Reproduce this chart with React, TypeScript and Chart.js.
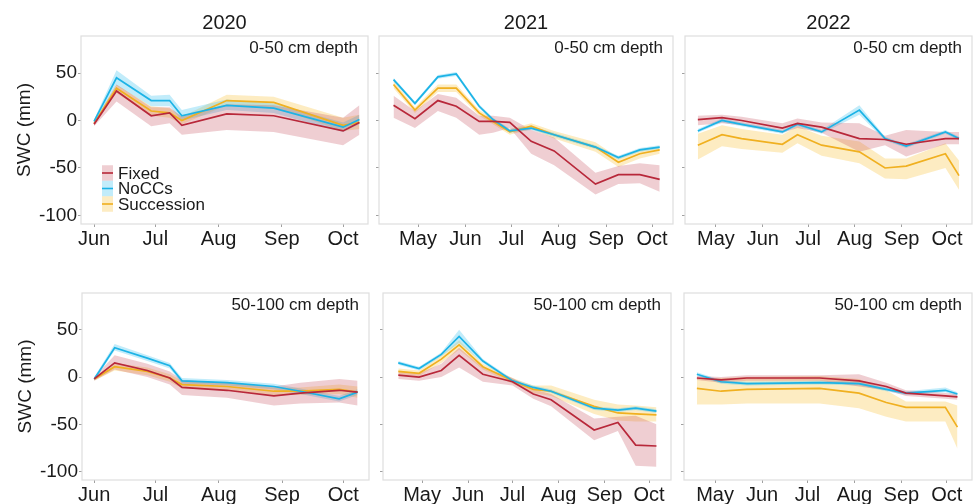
import React, { useEffect, useRef } from "react";
import { Chart, registerables } from "chart.js";

Chart.register(...registerables);

const FONT = "'Liberation Sans', Arial, Helvetica, sans-serif";
const INK = "#1a1a1a";

const seriesNames = ["Fixed", "NoCCs", "Succession"];
const lineColors = ["#b8283a", "#1cb3e6", "#f0b020"];
const bandColors = ["rgba(190,60,75,0.25)", "rgba(80,200,240,0.35)", "rgba(250,200,80,0.35)"];

// Day of year for the first of each month (May..Oct) and their labels
const monthDays = [121, 152, 182, 213, 244, 274];
const monthLabels = ["May", "Jun", "Jul", "Aug", "Sep", "Oct"];
const yTicks = [-100, -50, 0, 50];
const years = ["2020", "2021", "2022"];
const depths = ["0-50 cm depth", "50-100 cm depth"];

// ---- 2020, 0-50 cm ----
const days20a = [152, 163, 180, 189, 195, 217, 240, 274, 282];
const fixed20a = [-4, 31, 5, 8, -5, 7, 5, -11, -2];
const fixed20aLo = [-6, 20, -6, -3, -15, -10, -12, -26, -15];
const fixed20aHi = [-2, 38, 14, 14, 4, 17, 16, 3, 16];
const nocc20a = [-1, 45, 21, 21, 5, 16, 13, -7, 1];
const nocc20aLo = [-3, 37, 15, 15, 0, 11, 8, -12, -4];
const nocc20aHi = [1, 53, 26, 27, 11, 22, 18, -2, 6];
const succ20a = [-3, 34, 10, 8, 0, 21, 19, -5, -2];
const succ20aLo = [-5, 29, 5, 3, -4, 16, 14, -11, -9];
const succ20aHi = [-1, 38, 15, 13, 4, 27, 25, 3, 6];

// ---- 2021, 0-50 cm ----
const days21a = [105, 119, 134, 146, 161, 170, 181, 195, 210, 237, 252, 266, 279];
const fixed21a = [16, 2, 21, 15, -1, -1, -2, -22, -32, -67, -57, -57, -62];
const fixed21aLo = [3, -8, 10, 3, -15, -13, -8, -35, -47, -78, -67, -66, -75];
const fixed21aHi = [26, 10, 28, 24, 5, 5, 3, -10, -18, -55, -48, -45, -47];
const nocc21a = [43, 18, 46, 49, 15, 1, -11, -8, -15, -28, -39, -31, -28];
const nocc21aLo = [41, 16, 44, 47, 13, -1, -13, -10, -17, -30, -41, -33, -30];
const nocc21aHi = [45, 20, 48, 51, 17, 3, -9, -6, -13, -26, -37, -29, -26];
const succ21a = [38, 11, 34, 34, 8, -1, -12, -6, -15, -28, -44, -35, -31];
const succ21aLo = [34, 8, 30, 30, 5, -4, -15, -9, -19, -33, -49, -40, -35];
const succ21aHi = [42, 14, 38, 38, 11, 2, -9, -3, -11, -23, -39, -30, -27];

// ---- 2022, 0-50 cm ----
const days22a = [109, 125, 138, 165, 175, 191, 216, 233, 247, 273, 282];
const fixed22a = [1, 3, 0, -8, -3, -7, -19, -20, -25, -19, -19];
const fixed22aLo = [-5, -3, -5, -13, -8, -13, -33, -26, -38, -25, -25];
const fixed22aHi = [5, 6, 4, -3, 2, -2, -3, -16, -10, -12, -12];
const nocc22a = [-11, 0, -4, -12, -4, -12, 11, -19, -27, -12, -19];
const nocc22aLo = [-13, -2, -6, -14, -6, -14, 6, -21, -29, -14, -21];
const nocc22aHi = [-9, 2, -2, -10, -2, -10, 16, -17, -25, -10, -17];
const succ22a = [-26, -15, -19, -25, -15, -26, -33, -50, -48, -35, -58];
const succ22aLo = [-41, -27, -30, -34, -24, -37, -45, -61, -62, -50, -73];
const succ22aHi = [-14, -5, -9, -15, -6, -16, -22, -40, -40, -24, -42];

// ---- 2020, 50-100 cm ----
const days20b = [152, 162, 178, 189, 195, 217, 240, 253, 272, 281];
const fixed20b = [-2, 15, 7, -1, -11, -14, -20, -17, -14, -16];
const fixed20bLo = [-4, 8, 0, -8, -19, -22, -30, -28, -27, -30];
const fixed20bHi = [0, 23, 14, 6, -3, -6, -10, -6, -2, -4];
const nocc20b = [-2, 31, 20, 12, -4, -6, -10, -15, -23, -16];
const nocc20bLo = [-4, 28, 17, 9, -7, -9, -13, -18, -26, -19];
const nocc20bHi = [0, 35, 23, 15, -1, -3, -7, -12, -20, -13];
const succ20b = [-2, 11, 6, -1, -8, -10, -15, -15, -13, -16];
const succ20bLo = [-4, 7, 2, -5, -12, -14, -19, -19, -18, -22];
const succ20bHi = [0, 15, 10, 3, -4, -6, -11, -11, -8, -10];

// ---- 2021, 50-100 cm ----
const days21b = [105, 119, 134, 146, 162, 182, 196, 208, 237, 253, 265, 279];
const fixed21b = [2, 0, 7, 23, 3, -5, -18, -24, -56, -48, -72, -73];
const fixed21bLo = [-2, -4, 0, 10, -5, -9, -23, -31, -67, -57, -94, -95];
const fixed21bHi = [6, 4, 14, 31, 10, -1, -13, -18, -44, -42, -41, -50];
const nocc21b = [15, 9, 24, 43, 17, -4, -11, -15, -33, -35, -33, -36];
const nocc21bLo = [13, 7, 22, 36, 15, -6, -13, -17, -35, -37, -35, -38];
const nocc21bHi = [17, 11, 26, 50, 19, -2, -9, -13, -31, -33, -31, -34];
const succ21b = [6, 4, 19, 34, 11, -4, -13, -15, -31, -38, -39, -40];
const succ21bLo = [3, 1, 15, 29, 8, -7, -17, -20, -39, -46, -47, -47];
const succ21bHi = [9, 7, 23, 39, 14, -1, -9, -9, -24, -29, -30, -32];

// ---- 2022, 50-100 cm ----
const days22b = [109, 125, 142, 190, 216, 234, 247, 273, 281];
const fixed22b = [-1, -3, -1, -1, -4, -10, -17, -20, -21];
const fixed22bLo = [-3, -6, -4, -4, -10, -14, -20, -23, -24];
const fixed22bHi = [1, 0, 2, 2, 3, -6, -14, -17, -18];
const nocc22b = [3, -5, -7, -6, -7, -13, -17, -14, -18];
const nocc22bLo = [1, -7, -9, -8, -9, -15, -19, -16, -20];
const nocc22bHi = [5, -3, -5, -4, -5, -11, -15, -11, -16];
const succ22b = [-12, -15, -13, -12, -17, -27, -32, -32, -53];
const succ22bLo = [-29, -29, -28, -28, -33, -42, -47, -47, -76];
const succ22bHi = [-2, -1, 0, 1, -2, -14, -26, -26, -30];

type Series = { mean: number[]; lo: number[]; hi: number[] };
type PanelDef = {
  row: number;
  col: number;
  days: number[];
  series: Series[];
  box: [number, number, number, number]; // left, top, right, bottom (px)
  xRange: [number, number];
  firstMonth: number;
};

const panels: PanelDef[] = [
  {
    row: 0, col: 0, days: days20a, firstMonth: 1,
    series: [
      { mean: fixed20a, lo: fixed20aLo, hi: fixed20aHi },
      { mean: nocc20a, lo: nocc20aLo, hi: nocc20aHi },
      { mean: succ20a, lo: succ20aLo, hi: succ20aHi },
    ],
    box: [81, 36, 368, 224], xRange: [145.6, 286.2],
  },
  {
    row: 0, col: 1, days: days21a, firstMonth: 0,
    series: [
      { mean: fixed21a, lo: fixed21aLo, hi: fixed21aHi },
      { mean: nocc21a, lo: nocc21aLo, hi: nocc21aHi },
      { mean: succ21a, lo: succ21aLo, hi: succ21aHi },
    ],
    box: [379, 36, 673, 224], xRange: [95.5, 287.7],
  },
  {
    row: 0, col: 2, days: days22a, firstMonth: 0,
    series: [
      { mean: fixed22a, lo: fixed22aLo, hi: fixed22aHi },
      { mean: nocc22a, lo: nocc22aLo, hi: nocc22aHi },
      { mean: succ22a, lo: succ22aLo, hi: succ22aHi },
    ],
    box: [685, 36, 972, 224], xRange: [100.5, 290.6],
  },
  {
    row: 1, col: 0, days: days20b, firstMonth: 1,
    series: [
      { mean: fixed20b, lo: fixed20bLo, hi: fixed20bHi },
      { mean: nocc20b, lo: nocc20bLo, hi: nocc20bHi },
      { mean: succ20b, lo: succ20bLo, hi: succ20bHi },
    ],
    box: [82, 293, 369, 480], xRange: [146, 286.6],
  },
  {
    row: 1, col: 1, days: days21b, firstMonth: 0,
    series: [
      { mean: fixed21b, lo: fixed21bLo, hi: fixed21bHi },
      { mean: nocc21b, lo: nocc21bLo, hi: nocc21bHi },
      { mean: succ21b, lo: succ21bLo, hi: succ21bHi },
    ],
    box: [383, 293, 671, 480], xRange: [94.7, 288.8],
  },
  {
    row: 1, col: 2, days: days22b, firstMonth: 0,
    series: [
      { mean: fixed22b, lo: fixed22bLo, hi: fixed22bHi },
      { mean: nocc22b, lo: nocc22bLo, hi: nocc22bHi },
      { mean: succ22b, lo: succ22bLo, hi: succ22bHi },
    ],
    box: [684, 293, 972, 480], xRange: [100.5, 290.6],
  },
];

const W = 980;
const H = 504;
const X_AXIS_H = 30;

// Frame, panel title, depth label and legend
const panelDecor = {
  id: "panelDecor",
  beforeDatasetsDraw(chart: any) {
    const { ctx, chartArea: a } = chart;
    ctx.save();
    ctx.strokeStyle = "#dedede";
    ctx.lineWidth = 1.2;
    ctx.strokeRect(a.left, a.top, a.right - a.left, a.bottom - a.top);
    ctx.restore();
  },
  afterDraw(chart: any, _args: any, opts: any) {
    const { ctx, chartArea: a } = chart;
    ctx.save();
    ctx.fillStyle = INK;
    ctx.textBaseline = "middle";
    if (opts.title) {
      ctx.font = `20px ${FONT}`;
      ctx.textAlign = "center";
      ctx.fillText(opts.title, (a.left + a.right) / 2, a.top - 13);
    }
    if (opts.depth) {
      ctx.font = `17px ${FONT}`;
      ctx.textAlign = "right";
      ctx.fillText(opts.depth, a.right - 10, a.top + 12);
    }
    if (opts.legend) {
      const x0 = a.left + 21;
      const y0 = a.top + 137;
      const rowH = 15.5;
      ctx.font = `17px ${FONT}`;
      ctx.textAlign = "left";
      seriesNames.forEach((name, i) => {
        const cy = y0 + i * rowH;
        ctx.fillStyle = bandColors[i];
        ctx.fillRect(x0, cy - rowH / 2, 11, rowH);
        ctx.strokeStyle = lineColors[i];
        ctx.lineWidth = 1.6;
        ctx.beginPath();
        ctx.moveTo(x0, cy);
        ctx.lineTo(x0 + 11, cy);
        ctx.stroke();
        ctx.fillStyle = INK;
        ctx.fillText(name, x0 + 16, cy + 1);
      });
    }
    ctx.restore();
  },
};

function Panel({ def }: { def: PanelDef }) {
  const ref = useRef<HTMLCanvasElement | null>(null);

  useEffect(() => {
    if (!ref.current) return;
    const [bl, bt, br, bb] = def.box;
    const yW = def.col === 0 ? 68 : 8;
    const ticks = monthDays.slice(def.firstMonth);
    const pts = (arr: number[]) => def.days.map((d, i) => ({ x: d, y: arr[i] }));

    const lines = def.series.map((s, i) => ({
      label: seriesNames[i],
      data: pts(s.mean),
      borderColor: lineColors[i],
      borderWidth: 1.7,
      pointRadius: 0,
      fill: false,
      tension: 0,
    }));
    const bands: any[] = [];
    def.series.forEach((s, i) => {
      const loIdx = 3 + bands.length;
      bands.push({
        label: seriesNames[i] + " lower",
        data: pts(s.lo),
        borderWidth: 0,
        pointRadius: 0,
        fill: false,
      });
      bands.push({
        label: seriesNames[i] + " upper",
        data: pts(s.hi),
        borderWidth: 0,
        pointRadius: 0,
        backgroundColor: bandColors[i],
        fill: loIdx,
      });
    });

    const chart = new Chart(ref.current, {
      type: "line",
      data: { datasets: [...lines, ...bands] },
      options: {
        responsive: false,
        animation: false,
        devicePixelRatio: 1,
        layout: {
          padding: {
            left: bl - yW,
            top: bt,
            right: W - br,
            bottom: H - bb - X_AXIS_H,
          },
        },
        plugins: {
          legend: { display: false },
          tooltip: { enabled: false },
          panelDecor: {
            title: def.row === 0 ? years[def.col] : "",
            depth: depths[def.row],
            legend: def.row === 0 && def.col === 0,
          },
        } as any,
        scales: {
          x: {
            type: "linear",
            min: def.xRange[0],
            max: def.xRange[1],
            afterBuildTicks: (s: any) => {
              s.ticks = ticks.map((v) => ({ value: v }));
            },
            afterFit: (s: any) => {
              s.height = X_AXIS_H;
            },
            border: { display: false },
            grid: {
              drawOnChartArea: false,
              drawTicks: true,
              tickLength: 3,
              color: "#a0a0a0",
            },
            ticks: {
              autoSkip: false,
              maxRotation: 0,
              padding: 0,
              color: INK,
              font: { family: FONT, size: 20 },
              callback: (v: any) => monthLabels[monthDays.indexOf(Number(v))] ?? "",
            },
          },
          y: {
            type: "linear",
            min: -109,
            max: 89,
            afterBuildTicks: (s: any) => {
              s.ticks = yTicks.map((v) => ({ value: v }));
            },
            afterFit: (s: any) => {
              s.width = yW;
            },
            border: { display: false },
            grid: {
              drawOnChartArea: false,
              drawTicks: true,
              tickLength: 3,
              color: "#a0a0a0",
            },
            ticks: {
              display: def.col === 0,
              padding: 1,
              color: INK,
              font: { family: FONT, size: 19 },
            },
            title: {
              display: def.col === 0,
              text: "SWC (mm)",
              color: INK,
              font: { family: FONT, size: 19 },
              padding: { top: 0, bottom: 0 },
            },
          },
        },
      },
      plugins: [panelDecor],
    });
    return () => chart.destroy();
  }, [def]);

  return (
    <canvas
      ref={ref}
      width={W}
      height={H}
      style={{ position: "absolute", left: 0, top: 0, width: W, height: H }}
    />
  );
}

export default function App() {
  return (
    <div
      style={{
        position: "fixed",
        left: 0,
        top: 0,
        width: W,
        height: H,
        background: "#ffffff",
        overflow: "hidden",
      }}
    >
      {panels.map((p, i) => (
        <Panel key={i} def={p} />
      ))}
    </div>
  );
}
